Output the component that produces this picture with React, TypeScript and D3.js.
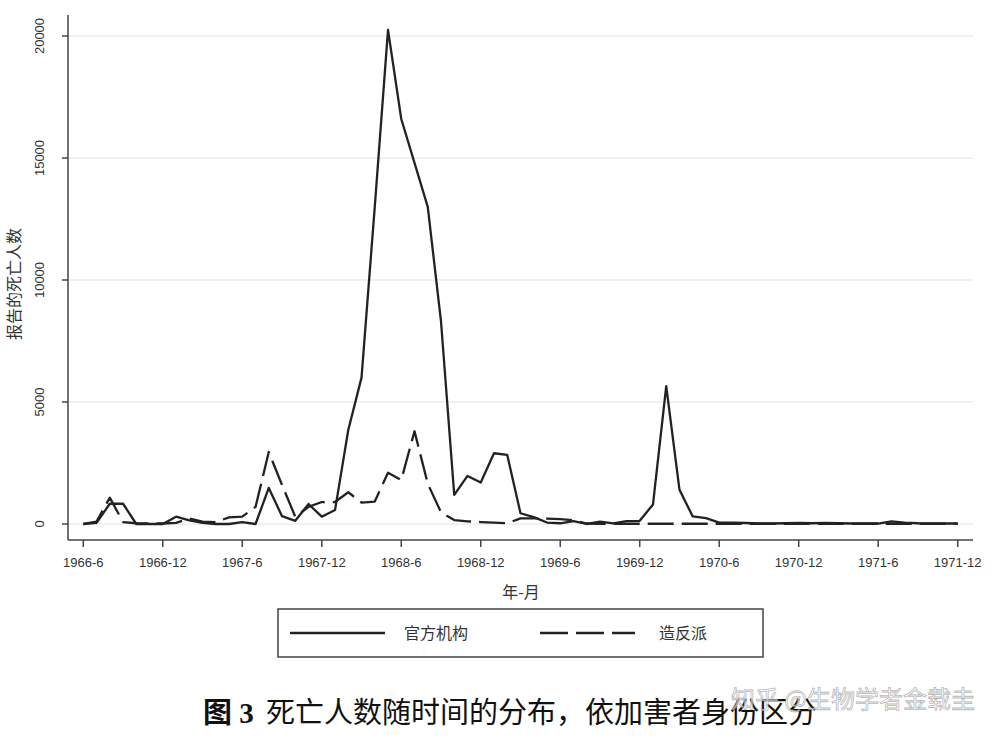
import React from "react";
import * as d3 from "d3";

const months: string[] = (() => {
  const out: string[] = [];
  for (let y = 1966; y <= 1971; y++) {
    for (let m = 1; m <= 12; m++) {
      if (y === 1966 && m < 6) continue;
      out.push(`${y}-${m}`);
    }
  }
  return out;
})();

const official: number[] = [
  0, 50, 830, 830, 0, 0, 0, 300, 150, 50, 0, 0,
  80, 0, 1480, 320, 130, 820, 300, 570, 3850, 6000, 13000, 20250,
  16600, 14800, 13000, 8300, 1190, 1970, 1700, 2900, 2830, 440, 280, 60,
  30, 120, 0, 100, 30, 120, 130, 800, 5650, 1400, 310, 240,
  60, 60, 40, 20, 20, 30, 50, 30, 50, 30, 20, 20,
  20, 110, 60, 30, 20, 20, 20,
];

const rebels: number[] = [
  0, 100, 1080, 80, 30, 20, 20, 50, 220, 100, 80, 270,
  300, 700, 2950, 1600, 300, 700, 900, 900, 1300, 880, 920, 2100,
  1800, 3800, 1650, 480, 160, 110, 80, 60, 30, 230, 230, 220,
  200, 150, 20, 10, 10, 10, 10, 10, 10, 10, 10, 10,
  10, 10, 10, 10, 10, 10, 10, 10, 10, 10, 10, 10,
  10, 10, 10, 10, 10, 10, 10,
];

const xTickLabels: string[] = [
  "1966-6", "1966-12", "1967-6", "1967-12", "1968-6", "1968-12",
  "1969-6", "1969-12", "1970-6", "1970-12", "1971-6", "1971-12",
];
const yTicks: number[] = [0, 5000, 10000, 15000, 20000];

const seriesNames = ["官方机构", "造反派"];

export default function App() {
  const x = d3.scaleLinear().domain([0, months.length - 1]).range([83.3, 957.7]);
  const y = d3.scaleLinear().domain([0, 20000]).range([524, 36]);
  const line = d3
    .line<number>()
    .x((_, i) => x(i))
    .y((v) => y(v));

  const axisColor = "#444";
  const textColor = "#333";
  const sans = "'Liberation Sans', Arial, sans-serif";
  const cjk = "'Noto Sans CJK SC', sans-serif";

  return (
    <svg
      width={1000}
      height={740}
      style={{ position: "absolute", left: 0, top: 0, background: "#fff" }}
    >
      <rect x={0} y={0} width={1000} height={740} fill="#fff" />
      {/* grid */}
      {yTicks.map((t) => (
        <line key={"g" + t} x1={68} x2={973} y1={y(t)} y2={y(t)} stroke="#ececec" strokeWidth={1.5} />
      ))}
      {/* lines */}
      <path d={line(official) || ""} fill="none" stroke="#222" strokeWidth={2.3} strokeLinejoin="round" />
      <path d={line(rebels) || ""} fill="none" stroke="#222" strokeWidth={2.3} strokeDasharray="26,8" strokeLinejoin="round" />
      {/* y axis */}
      <line x1={68} x2={68} y1={15} y2={540} stroke={axisColor} strokeWidth={1.5} />
      {yTicks.map((t) => (
        <g key={"yt" + t}>
          <line x1={62} x2={68} y1={y(t)} y2={y(t)} stroke={axisColor} strokeWidth={1.5} />
          <text
            transform={`translate(44,${y(t)}) rotate(-90)`}
            textAnchor="middle"
            fontFamily={sans}
            fontSize={13}
            fill={textColor}
          >
            {t}
          </text>
        </g>
      ))}
      <text
        transform={`translate(20,284) rotate(-90)`}
        textAnchor="middle"
        fontFamily={cjk}
        fontSize={16}
        fill={textColor}
      >
        报告的死亡人数
      </text>
      {/* x axis */}
      <line x1={68} x2={973} y1={540} y2={540} stroke={axisColor} strokeWidth={1.5} />
      {xTickLabels.map((lab) => {
        const i = months.indexOf(lab);
        return (
          <g key={"xt" + lab}>
            <line x1={x(i)} x2={x(i)} y1={540} y2={547} stroke={axisColor} strokeWidth={1.5} />
            <text x={x(i)} y={567} textAnchor="middle" fontFamily={sans} fontSize={13} fill={textColor}>
              {lab}
            </text>
          </g>
        );
      })}
      <text x={521} y={598} textAnchor="middle" fontFamily={cjk} fontSize={16} fill={textColor}>
        年-月
      </text>
      {/* legend */}
      <rect x={278} y={609} width={485} height={48} fill="#fff" stroke="#444" strokeWidth={1.5} />
      <line x1={290} x2={385} y1={633} y2={633} stroke="#222" strokeWidth={2.3} />
      <text x={404} y={639} fontFamily={cjk} fontSize={16} fill={textColor}>
        {seriesNames[0]}
      </text>
      <line x1={540} x2={635} y1={633} y2={633} stroke="#222" strokeWidth={2.3} strokeDasharray="28,8" />
      <text x={659} y={639} fontFamily={cjk} fontSize={16} fill={textColor}>
        {seriesNames[1]}
      </text>
      {/* title */}
      <text
        x={510}
        y={723}
        textAnchor="middle"
        fontFamily="'Noto Sans CJK SC', serif"
        fontSize={29}
        fill="#111"
      >
        <tspan fontWeight="bold" fontFamily="'Liberation Serif', 'Noto Sans CJK SC', serif">图 3</tspan>
        <tspan dx={12}>死亡人数随时间的分布，依加害者身份区分</tspan>
      </text>
      {/* watermark */}
      <text
        x={975}
        y={708}
        textAnchor="end"
        fontFamily={cjk}
        fontSize={24}
        fill="rgba(255,255,255,0.7)"
        stroke="rgba(110,110,110,0.5)"
        strokeWidth={0.8}
      >
        知乎 @生物学者金载圭
      </text>
    </svg>
  );
}
